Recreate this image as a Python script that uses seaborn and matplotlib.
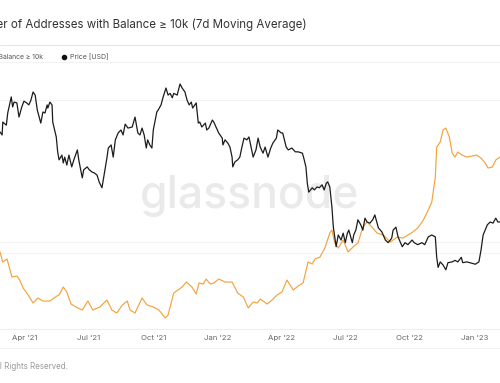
import numpy as np
import pandas as pd
import seaborn as sns
import matplotlib.pyplot as plt
import matplotlib.dates as mdates
from matplotlib.lines import Line2D

start = pd.Timestamp('2021-02-25')

# BTC price (USD thousands), days since start
price_day = [0, 3, 4, 9, 11, 16, 18, 20, 24, 27, 31, 34, 38, 41, 44, 47, 50, 53, 55, 58,
             61, 64, 67, 68, 71, 74, 75, 80, 82, 84, 88, 90, 92, 95, 98, 102, 105, 110, 112, 117,
             119, 124, 127, 131, 134, 138, 141, 145, 148, 152, 154, 158, 161, 164, 168, 172, 175, 178,
             182, 188, 192, 196, 199, 202, 205, 208, 210, 213, 216, 218, 223, 225, 229, 232, 236, 239,
             242, 245, 247, 252, 253, 256, 259, 263, 266, 269, 272, 274, 279, 282, 284, 287, 292, 294,
             297, 302, 304, 309, 311, 316, 317, 320, 324, 327, 330, 331, 334, 338, 341, 344, 347, 351, 354,
             360, 364, 367, 370, 374, 377, 381, 385, 388, 393, 395, 400, 402, 407, 410, 415, 420, 424,
             430, 432, 435, 437, 439, 444, 447, 451, 454, 458, 461, 464, 466, 469, 472, 474, 475, 478,
             481, 485, 488, 491, 494, 496, 501, 503, 506, 509, 513, 516, 519, 522, 526, 530, 533,
             538, 543, 548, 552, 557, 559, 563, 566, 572, 576, 580, 586, 589, 594, 600, 604, 609, 614,
             619, 621, 623, 626, 630, 634, 637, 643, 647, 651, 656, 658, 664, 668, 676, 681, 684, 687,
             693, 697, 701, 705, 708, 711]
price_k = [46.0, 44.9, 49.7, 48.5, 53.4, 60.6, 56.0, 58.2, 57.8, 51.7, 56.0, 58.6, 57.8, 56.9, 59.1, 63.0, 61.5, 54.7, 52.5, 49.3,
           53.8, 53.4, 56.9, 55.5, 58.2, 56.9, 49.7, 44.2, 39.3, 36.9, 38.3, 36.0, 37.7, 35.4, 38.3, 34.9, 36.9, 39.9, 36.9, 32.0,
           34.1, 34.9, 34.1, 33.5, 33.3, 32.7, 31.0, 29.6, 32.7, 37.4, 40.5, 41.5, 37.7, 43.2, 45.6, 46.7, 44.9, 48.9,
           47.4, 47.8, 51.7, 45.6, 44.9, 47.4, 44.9, 40.5, 43.2, 41.5, 40.5, 46.7, 53.8, 54.7, 56.9, 60.6, 65.0, 61.5,
           62.3, 60.2, 62.3, 61.5, 63.0, 67.1, 65.0, 63.0, 59.1, 56.9, 58.2, 55.5, 57.8, 49.3, 49.7, 47.8, 49.3, 46.7,
           47.4, 50.5, 49.7, 46.7, 45.6, 43.8, 41.5, 43.2, 42.1, 40.8, 37.7, 34.9, 36.3, 36.9, 37.7, 40.8, 43.8, 43.2, 44.2,
           37.7, 39.9, 43.8, 40.8, 38.9, 40.8, 37.7, 40.5, 42.1, 43.8, 46.7, 45.6, 45.6, 40.8, 39.9, 40.5, 39.3, 39.3,
           38.9, 37.4, 34.9, 30.7, 28.6, 29.6, 29.1, 29.8, 29.6, 30.3, 29.1, 30.7, 31.0, 29.8, 25.4, 21.7, 20.9, 18.6,
           20.4, 19.6, 20.7, 19.2, 20.7, 21.2, 19.2, 20.4, 21.2, 23.0, 22.1, 21.2, 23.3, 22.6, 22.4, 23.0, 23.9,
           21.6, 20.9, 19.6, 19.2, 19.9, 21.2, 21.7, 20.1, 18.6, 19.2, 18.9, 19.6, 19.2, 18.9, 19.2, 18.9, 20.1, 20.4,
           20.1, 17.1, 15.8, 16.5, 16.1, 15.5, 16.4, 16.5, 16.7, 16.5, 17.1, 16.4, 16.5, 16.4, 16.2, 16.5, 18.1, 20.4,
           22.1, 22.6, 22.4, 23.3, 22.6, 22.6]

# Number of addresses with balance >= 10k BTC (7d MA), days since start
count_day = [0, 4, 10, 17, 24, 28, 33, 40, 47, 54, 61, 71, 81, 84, 90, 95, 101, 108, 117, 125,
             132, 142, 152, 159, 166, 174, 181, 185, 192, 202, 209, 218, 226, 235, 239, 247, 259, 265, 273, 279,
             283, 289, 293, 299, 304, 311, 320, 330, 338, 346, 353, 360, 366, 370, 374, 380, 387, 394, 401, 408,
             417, 424, 431, 438, 444, 448, 455, 462, 469, 472, 476, 481, 488, 495, 502, 509, 516, 522, 529, 536,
             545, 555, 565, 573, 580, 587, 594, 602, 609, 614, 619, 621, 626, 630, 634, 639, 643, 647, 651, 657,
             664, 671, 678, 684, 690, 694, 700, 705, 711]
count_val = [93.2, 91.2, 91.8, 88.2, 88.4, 87.6, 86.0, 84.6, 83.0, 84.0, 83.4, 83.4, 84.4, 84.6, 86.2, 85.2, 82.8, 82.2, 81.6, 83.4,
             81.6, 82.2, 83.6, 81.6, 81.0, 82.6, 83.4, 81.6, 81.0, 84.0, 82.6, 82.2, 81.6, 80.0, 80.6, 85.0, 86.2, 87.2, 86.2, 84.8,
             87.0, 86.8, 87.8, 86.8, 87.0, 87.8, 87.2, 87.2, 85.0, 84.2, 82.0, 83.2, 83.0, 83.8, 83.4, 82.8, 83.6, 84.6, 85.2, 87.6,
             85.6, 86.4, 87.0, 91.2, 90.8, 91.8, 92.2, 94.0, 97.0, 97.6, 95.0, 94.0, 95.6, 93.2, 94.2, 95.0, 98.2, 99.2, 98.2, 97.0,
             96.6, 95.2, 96.2, 96.0, 96.6, 97.2, 98.0, 99.6, 101.6, 103.2, 108.2, 114.2, 115.2, 117.6, 118.0, 116.2, 113.0, 112.2, 113.2, 112.6,
             112.2, 112.4, 112.6, 112.0, 111.0, 110.0, 110.2, 111.6, 112.2]

price_df = pd.DataFrame({'date': start + pd.to_timedelta(price_day, unit='D'),
                         'price': np.array(price_k) * 1000})
count_df = pd.DataFrame({'date': start + pd.to_timedelta(count_day, unit='D'),
                         'count': count_val})

sns.set_theme(style='white')
plt.rcParams['font.family'] = ['Inter', 'DejaVu Sans']

fig = plt.figure(figsize=(5, 3.83), dpi=100)
ax = fig.add_axes([0, 0.141, 1, 0.663])
ax2 = ax.twinx()

# faint grid lines
for g in (93.0, 95.2, 123.6):
    ax.axhline(g, color='#f3f3f3', linewidth=0.8, zorder=0)

sns.lineplot(data=count_df, x='date', y='count', ax=ax, color='#f4a23c', linewidth=0.85, estimator=None)
sns.lineplot(data=price_df, x='date', y='price', ax=ax2, color='#1c1c1c', linewidth=0.9, estimator=None)

ax2.set_yscale('log')
ax2.set_ylim(9720, 72000)
ax.set_ylim(77.8, 128.6)
ax.set_xlim(start, start + pd.Timedelta(days=711))

ax.xaxis.set_major_locator(mdates.MonthLocator(bymonth=[1, 4, 7, 10]))
ax.xaxis.set_major_formatter(mdates.DateFormatter("%b '%y"))
ax.tick_params(axis='x', length=0, labelsize=5.6, colors='#666666', pad=4)
ax.set_yticks([])
ax2.yaxis.set_visible(False)
ax.set_xlabel('')
ax.set_ylabel('')
for a in (ax, ax2):
    for s in a.spines.values():
        s.set_visible(False)
ax.spines['bottom'].set_visible(True)
ax.spines['bottom'].set_color('#eeeeee')
ax.spines['bottom'].set_linewidth(0.8)

# watermark
ax.text(0.5, 0.476, 'glassnode', transform=ax.transAxes, ha='center', va='baseline',
        fontsize=32, fontweight='medium', color='#eaeaea', zorder=0)

# header / legend / footer (the reference is cropped on the left)
fig.text(307 / 500, 1 - 28 / 383, 'Number of Addresses with Balance ≥ 10k (7d Moving Average)',
         ha='right', va='baseline', fontsize=8.3, color='#333333')
fig.text(43 / 500, 1 - 59 / 383, 'Number of Addresses with Balance ≥ 10k',
         ha='right', va='baseline', fontsize=4.9, color='#555555')
fig.add_artist(Line2D([64 / 500], [1 - 56.5 / 383], marker='o', markersize=3, color='#111111',
                      transform=fig.transFigure))
fig.text(70 / 500, 1 - 59 / 383, 'Price [USD]', ha='left', va='baseline', fontsize=5.0, color='#555555')
fig.text(68 / 500, 1 - 369 / 383, '© 2023 Glassnode. All Rights Reserved.',
         ha='right', va='baseline', fontsize=5.8, color='#9a9a9a')

for yy, c in [(45, '#e6e6e6'), (62, '#f2f2f2'), (348, '#f2f2f2')]:
    fig.add_artist(Line2D([0, 1], [1 - yy / 383] * 2, color=c, linewidth=0.8, transform=fig.transFigure))

fig.savefig('out.png', dpi=100)
